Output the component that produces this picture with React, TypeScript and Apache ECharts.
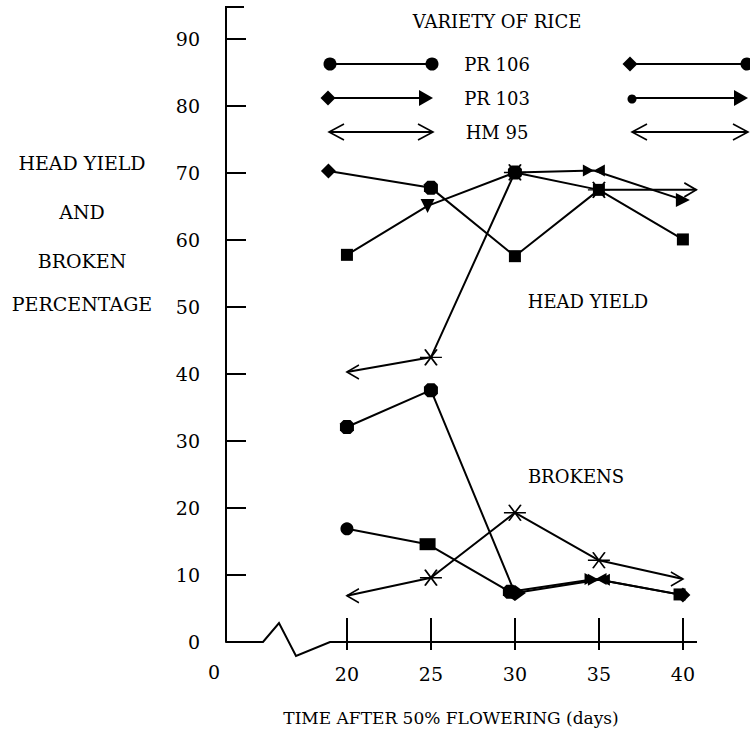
import React, { useEffect, useRef } from 'react';
import * as echarts from 'echarts';

// ---------- data ----------
const yTickValues = [0, 10, 20, 30, 40, 50, 60, 70, 80, 90];
const xTickDays = [20, 25, 30, 35, 40];

const pr103HeadDays = [18.9, 25, 30, 35, 40];
const pr103Head = [70.3, 67.8, 57.6, 67.5, 60.1];
const pr103HeadSymbols = ['diamond', 'blob', 'square', 'square', 'square'];

const pr106HeadDays = [20, 24.8, 30, 34.7, 40];
const pr106Head = [57.8, 65.1, 70.1, 70.4, 66.0];
const pr106HeadSymbols = ['square', 'triDown', 'blob', 'bowtie', 'triRight'];

const hm95HeadDays = [20, 25, 30, 35, 40.8];
const hm95Head = [40.3, 42.5, 70.1, 67.5, 67.5];
const hm95HeadSymbols = ['openL', 'star', 'star', 'star', 'openR'];

const pr106BrokenDays = [20, 25, 30, 35, 40];
const pr106Broken = [32.1, 37.6, 7.3, 9.3, 7.0];
const pr106BrokenSymbols = ['blob', 'blob', 'diamondBig', 'bowtie', 'diamond'];

const pr103BrokenDays = [20, 24.8, 29.7, 34.8, 39.8];
const pr103Broken = [16.9, 14.6, 7.5, 9.4, 7.1];
const pr103BrokenSymbols = ['circle', 'squareWide', 'blob', 'bowtie', 'square'];

const hm95BrokenDays = [20, 25, 30, 35, 40];
const hm95Broken = [6.9, 9.6, 19.3, 12.2, 9.4];
const hm95BrokenSymbols = ['openL', 'star', 'star', 'star', 'openR'];

// ---------- styling ----------
const FONT = 'DejaVu Serif';
const INK = '#000';

const GRID = { left: 226, right: 53, top: 7, bottom: 93 };
const X_MIN = 12.8;
const X_MAX = 40.84;
const Y_MIN = 0;
const Y_MAX = 94.8;

type SymDef = { symbol: string; size: number | number[]; open?: boolean; offset?: number[]; rotate?: number };
const SYMBOLS: Record<string, SymDef> = {
  circle: { symbol: 'circle', size: 13 },
  blob: { symbol: 'path://M3,0L9,0L12,3L12,9L9,12L3,12L0,9L0,3Z', size: 14 },
  diamond: { symbol: 'diamond', size: [15, 15] },
  diamondBig: { symbol: 'diamond', size: [22, 16] },
  square: { symbol: 'rect', size: 12 },
  squareWide: { symbol: 'rect', size: [16, 12] },
  triDown: { symbol: 'triangle', size: 14, rotate: 180 },
  triRight: { symbol: 'triangle', size: 14, rotate: -90 },
  bowtie: { symbol: 'path://M0,0L10,5L0,10ZM20,0L10,5L20,10Z', size: [22, 12] },
  openL: { symbol: 'path://M12,0L0,7L12,14', size: [12, 14], open: true, offset: [6, 0] },
  openR: { symbol: 'path://M0,0L12,7L0,14', size: [12, 14], open: true, offset: [-6, 0] },
  star: { symbol: 'path://M0,8L22,8M5,0L17,16M17,0L5,16', size: [22, 16], open: true },
};

function makeSeries(name: string, days: number[], values: number[], symbols: string[]) {
  return {
    name,
    type: 'line',
    xAxisIndex: 0,
    yAxisIndex: 0,
    lineStyle: { color: INK, width: 2 },
    showSymbol: true,
    data: days.map((d, i) => {
      const s = SYMBOLS[symbols[i]];
      return {
        value: [d, values[i]],
        symbol: s.symbol,
        symbolSize: s.size,
        symbolRotate: s.rotate || 0,
        symbolOffset: s.offset || [0, 0],
        symbolKeepAspect: false,
        itemStyle: s.open
          ? { color: 'rgba(0,0,0,0)', borderColor: INK, borderWidth: 1.6 }
          : { color: INK, borderColor: INK, borderWidth: 0 },
      };
    }),
  };
}

function txt(text: string, x: number, y: number, size: number, align = 'center') {
  return {
    type: 'text',
    x,
    y,
    style: { text, fill: INK, font: `${size}px "${FONT}"`, align, verticalAlign: 'middle' },
  };
}

function line(x1: number, y1: number, x2: number, y2: number, w = 1.8) {
  return { type: 'line', shape: { x1, y1, x2, y2 }, style: { stroke: INK, lineWidth: w } };
}

function dot(cx: number, cy: number, r: number) {
  return { type: 'circle', shape: { cx, cy, r }, style: { fill: INK } };
}

function diamondShape(cx: number, cy: number, r: number) {
  return {
    type: 'polygon',
    shape: { points: [[cx, cy - r], [cx + r, cy], [cx, cy + r], [cx - r, cy]] },
    style: { fill: INK },
  };
}

function triRightShape(tipX: number, cy: number) {
  return {
    type: 'polygon',
    shape: { points: [[tipX - 14, cy - 8], [tipX, cy], [tipX - 14, cy + 8]] },
    style: { fill: INK },
  };
}

function chevron(tipX: number, cy: number, dir: number) {
  return {
    type: 'polyline',
    shape: { points: [[tipX + dir * 15, cy - 8], [tipX, cy], [tipX + dir * 15, cy + 8]] },
    style: { stroke: INK, lineWidth: 1.6, fill: null },
  };
}

export default function App() {
  const ref = useRef<HTMLDivElement>(null);

  useEffect(() => {
    document.body.style.margin = '0';
    if (!ref.current) return;
    const chart = echarts.init(ref.current, undefined, { renderer: 'svg' });

    const baseY = 735 - GRID.bottom;
    const legendGraphics = [
      txt('VARIETY OF RICE', 497, 21, 18),
      txt('PR 106', 497, 64, 18),
      txt('PR 103', 497, 98, 18),
      txt('HM 95', 497, 132, 18),
      // PR 106 samples
      line(330, 64, 432, 64), dot(330, 64, 6.5), dot(432, 64, 6.5),
      line(630, 64, 750, 64), diamondShape(630, 64, 7.5), dot(747, 64, 6.5),
      // PR 103 samples
      line(328, 98, 426, 98), diamondShape(328, 98, 7.5), triRightShape(433, 98),
      line(632, 98, 740, 98), dot(632, 99, 4.5), triRightShape(748, 98),
      // HM 95 samples
      line(329, 132, 433, 132), chevron(329, 132, 1), chevron(433, 132, -1),
      line(632, 132, 748, 132), chevron(632, 132, 1), chevron(748, 132, -1),
    ];

    const option = {
      animation: false,
      backgroundColor: '#fff',
      grid: { left: GRID.left, right: GRID.right, top: GRID.top, bottom: GRID.bottom, containLabel: false },
      xAxis: [
        {
          type: 'value',
          min: X_MIN,
          max: X_MAX,
          axisLine: { show: false },
          splitLine: { show: false },
          axisTick: { show: true, inside: true, length: 24, customValues: xTickDays, lineStyle: { color: INK, width: 2 } },
          axisLabel: { customValues: xTickDays, margin: 22, fontSize: 19, fontFamily: FONT, color: INK },
        },
        {
          type: 'value',
          min: X_MIN,
          max: X_MAX,
          position: 'bottom',
          axisLine: { show: false },
          splitLine: { show: false },
          axisTick: { show: true, inside: false, length: 8, customValues: xTickDays, lineStyle: { color: INK, width: 2 } },
          axisLabel: { show: false },
        },
      ],
      yAxis: {
        type: 'value',
        min: Y_MIN,
        max: Y_MAX,
        axisLine: { show: true, lineStyle: { color: INK, width: 2 } },
        splitLine: { show: false },
        axisTick: { show: true, inside: true, length: 20, customValues: yTickValues, lineStyle: { color: INK, width: 2 } },
        axisLabel: { customValues: yTickValues, margin: 26, fontSize: 19, fontFamily: FONT, color: INK },
      },
      series: [
        makeSeries('PR 103 head yield', pr103HeadDays, pr103Head, pr103HeadSymbols),
        makeSeries('PR 106 head yield', pr106HeadDays, pr106Head, pr106HeadSymbols),
        makeSeries('HM 95 head yield', hm95HeadDays, hm95Head, hm95HeadSymbols),
        makeSeries('PR 106 brokens', pr106BrokenDays, pr106Broken, pr106BrokenSymbols),
        makeSeries('PR 103 brokens', pr103BrokenDays, pr103Broken, pr103BrokenSymbols),
        makeSeries('HM 95 brokens', hm95BrokenDays, hm95Broken, hm95BrokenSymbols),
      ],
      graphic: [
        // broken x axis line
        {
          type: 'polyline',
          shape: {
            points: [
              [GRID.left, baseY],
              [263, baseY],
              [279, baseY - 19],
              [296, baseY + 14],
              [330, baseY],
              [750 - GRID.right, baseY],
            ],
          },
          style: { stroke: INK, lineWidth: 2, fill: null },
        },
        line(GRID.left - 1, GRID.top, GRID.left + 18, GRID.top, 2),
        txt('0', 214, 672, 19),
        txt('HEAD YIELD', 82, 163, 19),
        txt('AND', 82, 212, 19),
        txt('BROKEN', 82, 261, 19),
        txt('PERCENTAGE', 82, 304, 19),
        txt('HEAD YIELD', 588, 301, 18),
        txt('BROKENS', 576, 476, 18),
        txt('TIME AFTER 50% FLOWERING (days)', 451, 718, 17),
        ...legendGraphics,
      ],
    };

    chart.setOption(option as any);
    return () => chart.dispose();
  }, []);

  return <div ref={ref} style={{ width: 750, height: 735 }} />;
}
